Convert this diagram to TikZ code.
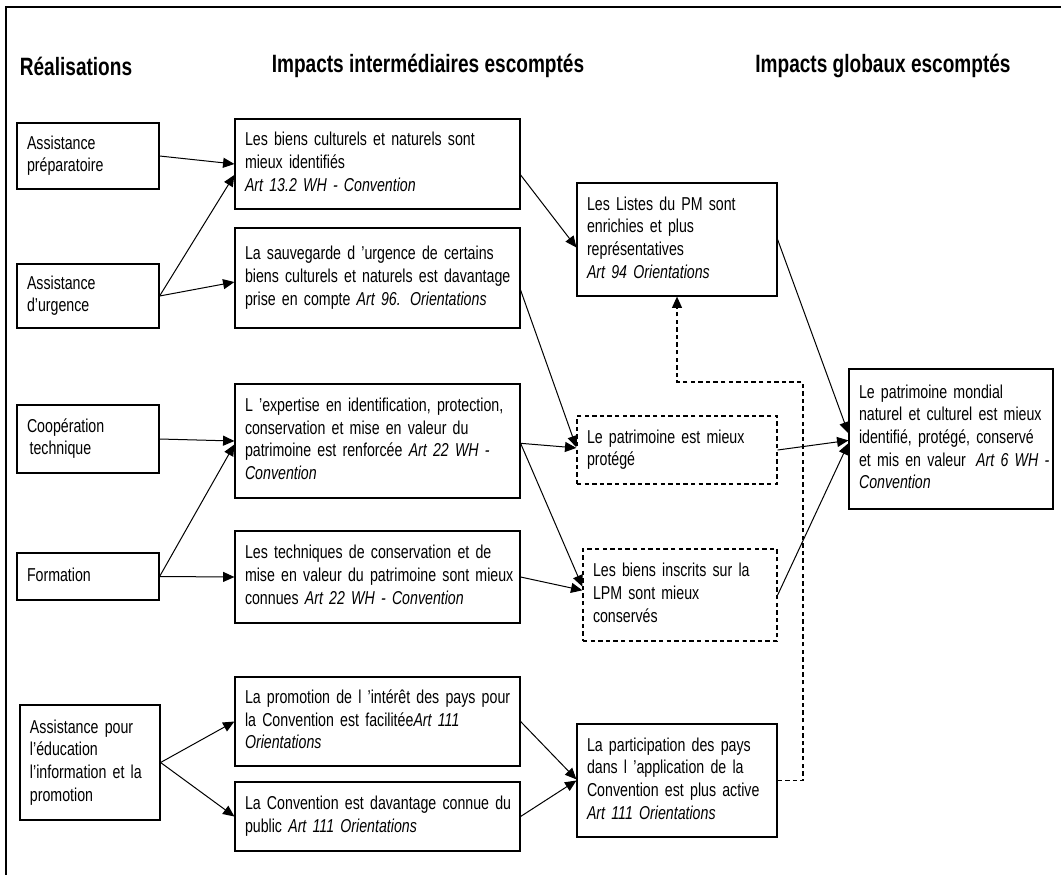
\documentclass[tikz,border=0pt]{standalone}
\usepackage{fontspec}
\setmainfont{Liberation Sans}[FakeStretch=0.76]
\usetikzlibrary{arrows.meta,calc}
\newcommand{\mkl}[1]{\begin{tabular}{@{}l@{}}#1\end{tabular}}
\newcommand{\mkbox}[7]{%
  \pgfmathsetmacro{\mkbw}{(#4-#2)*0.75}%
  \pgfmathsetmacro{\mkbh}{(#5-#3)*0.75}%
  \pgfmathsetmacro{\mktw}{\mkbw-15}%
  \node[box,#6,minimum width=\mkbw pt,minimum height=\mkbh pt,text width=\mktw pt] (#1) at ({(#2+#4)/2},{(#3+#5)/2}) {\mkl{#7}};}
\begin{document}
\begin{tikzpicture}[x=0.75pt,y=-0.75pt,
  box/.style={draw,line width=0.9pt,align=left,inner xsep=7.5pt,inner ysep=0pt,
    font=\fontsize{14}{17}\selectfont},
  dbox/.style={line width=1pt,dash pattern=on 3.3pt off 2.4pt},
  head/.style={font=\bfseries\fontsize{18.8}{21}\selectfont,inner sep=0pt},
  arr/.style={-{Triangle[length=8.5pt,width=7.5pt]},line width=0.75pt},
  darr/.style={arr,line width=0.9pt,dash pattern=on 3.3pt off 2.4pt}]
\useasboundingbox (0,0) rectangle (1061,875);
\draw[line width=1.8pt] (6,875) -- (6,7) -- (1061,7);
% headers
\node[head] (h1) at (76,66) {Réalisations};
\node[head] (h2) at (428,66) {Impacts intermédiaires escomptés};
\node[head] (h3) at (883,66) {Impacts globaux escomptés};
% left column
\mkbox{A1}{17}{123}{159}{189}{}{Assistance\\préparatoire}
\mkbox{A2}{17}{264}{159}{328}{}{Assistance\\d’urgence}
\mkbox{A3}{17}{405}{159}{473}{}{Coopération\\\hspace*{2pt}technique}
\mkbox{A4}{17}{553}{159}{600}{}{Formation}
\mkbox{A5}{20}{705}{160}{820}{}{Assistance pour\\l’éducation\\l’information et la\\promotion}
% middle column
\mkbox{M1}{235}{119}{520}{209}{}{Les biens culturels et naturels sont\\mieux identifiés\\\textit{Art 13.2 WH - Convention}}
\mkbox{M2}{235}{228}{520}{328}{}{La sauvegarde d ’urgence de certains\\biens culturels et naturels est davantage\\prise en compte \textit{Art 96. Orientations}}
\mkbox{M3}{235}{384}{520}{498}{}{L ’expertise en identification, protection,\\conservation et mise en valeur du\\patrimoine est renforcée \textit{Art 22 WH -}\\\textit{Convention}}
\mkbox{M4}{235}{531}{520}{623}{}{Les techniques de conservation et de\\mise en valeur du patrimoine sont mieux\\connues \textit{Art 22 WH - Convention}}
\mkbox{M5}{235}{677}{520}{766}{}{La promotion de l ’intérêt des pays pour\\la Convention est facilitée\textit{Art 111}\\\textit{Orientations}}
\mkbox{M6}{235}{782}{520}{851}{}{La Convention est davantage connue du\\public \textit{Art 111 Orientations}}
% right-middle column
\mkbox{R1}{577}{183}{777}{296}{}{Les Listes du PM sont\\enrichies et plus\\représentatives\\\textit{Art 94 Orientations}}
\mkbox{R2}{577}{416}{777}{484}{dbox}{Le patrimoine est mieux\\protégé}
\mkbox{R3}{583}{549}{777}{641}{dbox}{Les biens inscrits sur la\\LPM sont mieux\\conservés}
\mkbox{R4}{577}{724}{777}{837}{}{La participation des pays\\dans l ’application de la\\Convention est plus active\\\textit{Art 111 Orientations}}
% global
\mkbox{G}{849}{369}{1053}{509}{}{Le patrimoine mondial\\naturel et culturel est mieux\\identifié, protégé, conservé\\et mis en valeur \hspace{3pt}\textit{Art 6 WH -}\\\textit{Convention}}
% connectors left -> middle
\draw[arr] (A1.east) -- (M1.west);
\draw[arr] (A2.east) -- ($(M1.north west)!0.62!(M1.south west)$);
\draw[arr] (A2.east) -- ($(M2.north west)!0.54!(M2.south west)$);
\draw[arr] (A3.east) -- (M3.west);
\draw[arr] (A4.east) -- ($(M3.north west)!0.53!(M3.south west)$);
\draw[arr] (A4.east) -- (M4.west);
\draw[arr] (A5.east) -- (M5.west);
\draw[arr] (A5.east) -- (M6.west);
% middle -> right-middle
\draw[arr] ($(M1.north east)!0.62!(M1.south east)$) -- ($(R1.north west)!0.57!(R1.south west)$);
\draw[arr] ($(M2.north east)!0.62!(M2.south east)$) -- ($(R2.north west)!0.46!(R2.south west)$);
\draw[arr] ($(M3.north east)!0.52!(M3.south east)$) -- ($(R2.north west)!0.47!(R2.south west)$);
\draw[arr] ($(M3.north east)!0.52!(M3.south east)$) -- ($(R3.north west)!0.41!(R3.south west)$);
\draw[arr] (M4.east) -- ($(R3.north west)!0.45!(R3.south west)$);
\draw[arr] (M5.east) -- ($(R4.north west)!0.49!(R4.south west)$);
\draw[arr] (M6.east) -- (R4.west);
% right-middle -> global
\draw[arr] (R1.east) -- ($(G.north west)!0.46!(G.south west)$);
\draw[arr] (R2.east) -- ($(G.north west)!0.51!(G.south west)$);
\draw[arr] (R3.east) -- ($(G.north west)!0.53!(G.south west)$);
% dashed feedback
\coordinate (dk) at (803,382);
\draw[darr] (R4.east) -| (dk) -| (R1.south);
\end{tikzpicture}
\end{document}
